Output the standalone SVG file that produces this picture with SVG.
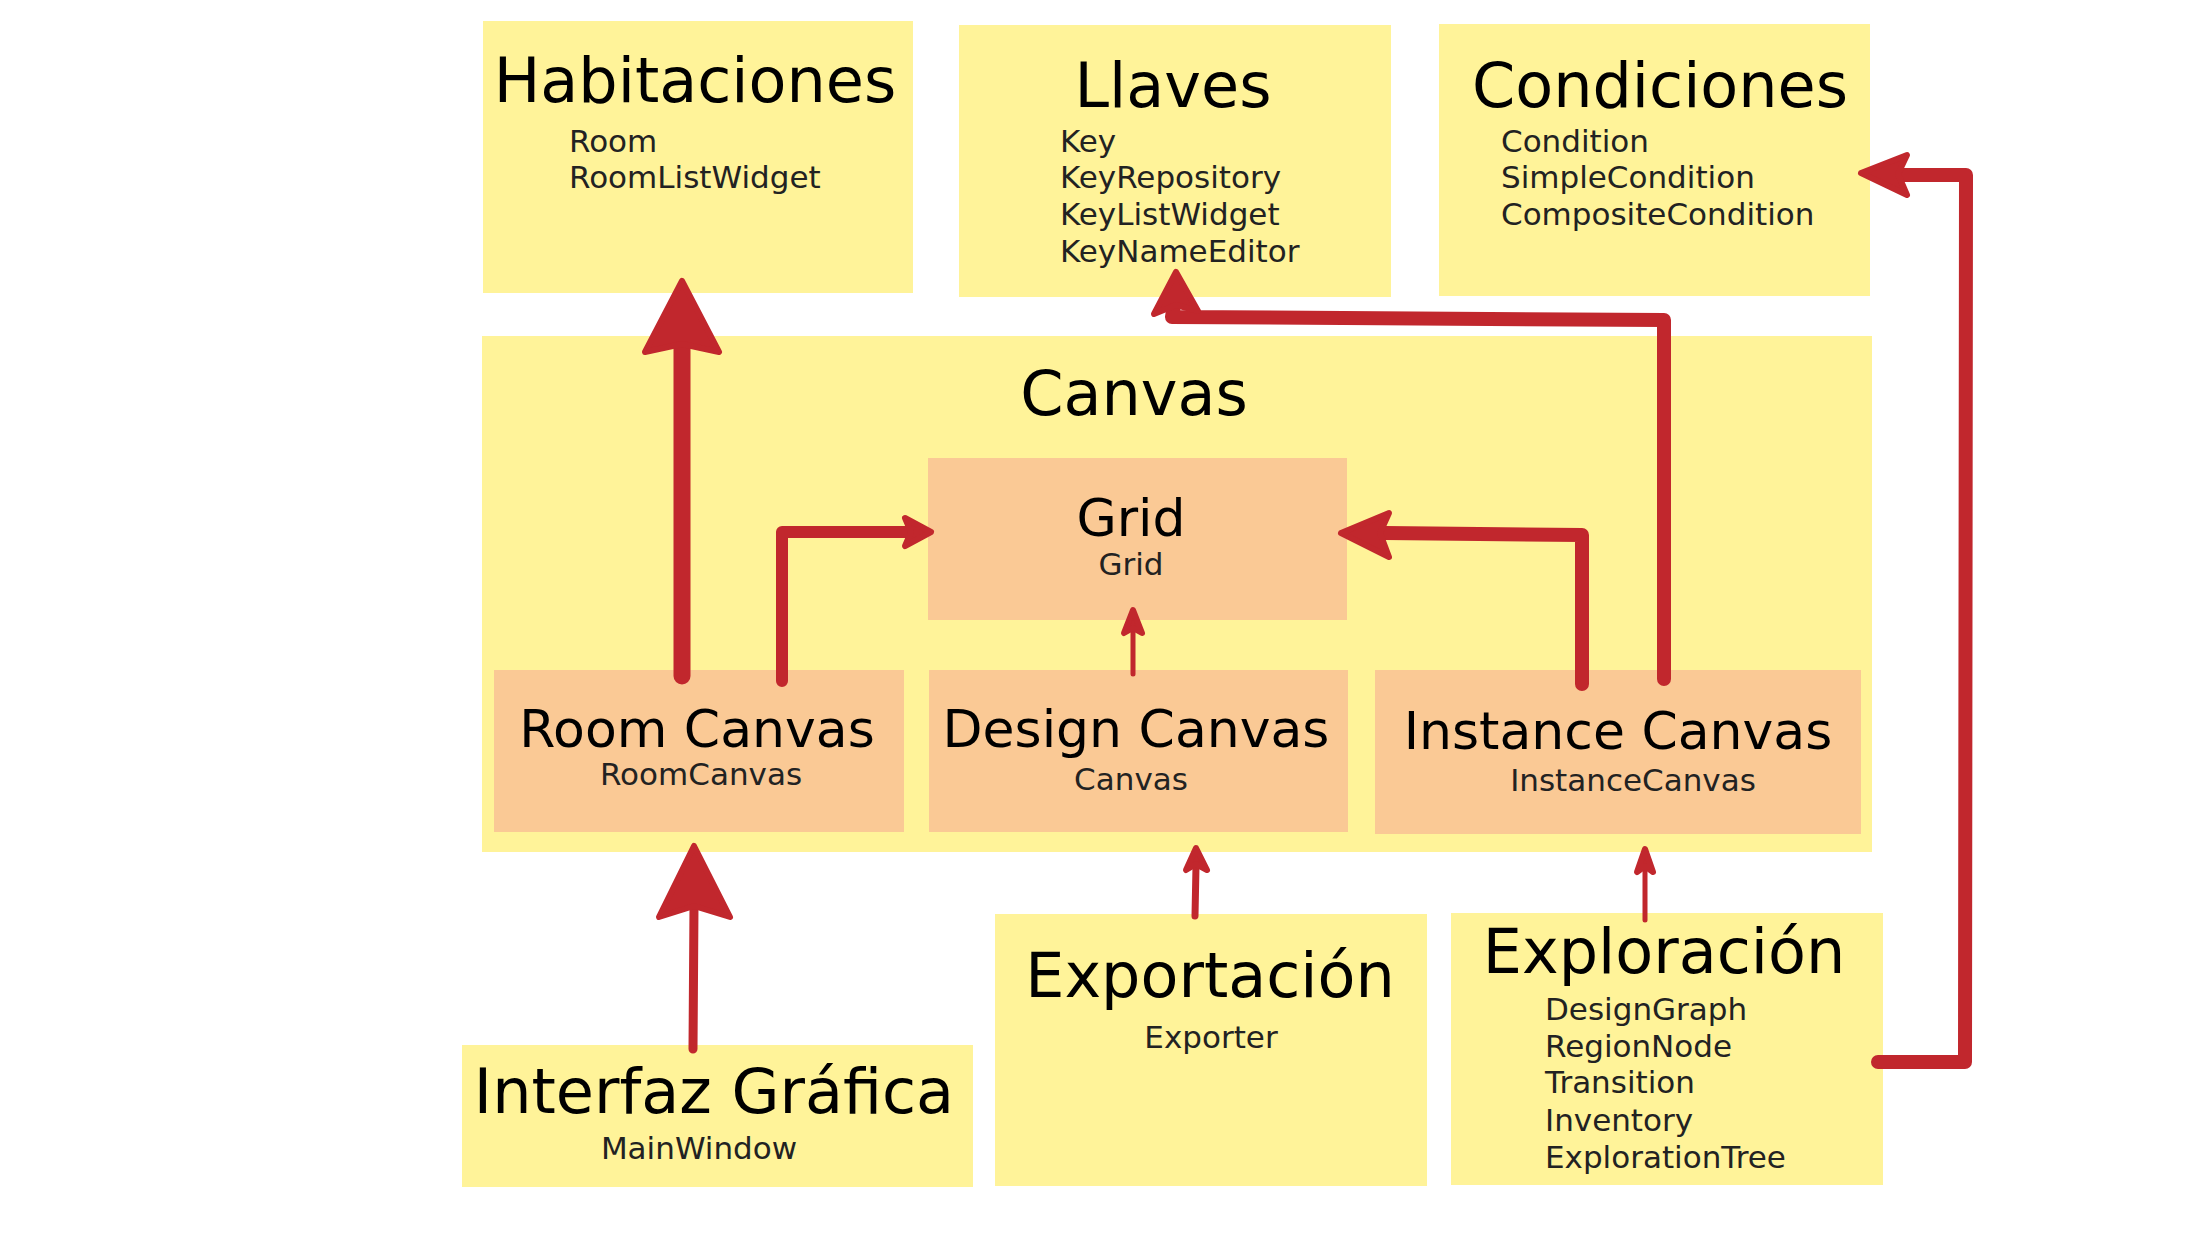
<svg xmlns="http://www.w3.org/2000/svg" width="2200" height="1238" viewBox="0 0 2200 1238">
<style>
  .pkg { fill: #fff399; }
  .cls { fill: #fac995; }
  .title { font-family: "DejaVu Sans", sans-serif; font-size: 62px; fill: #000; text-anchor: middle; }
  .mid { font-family: "DejaVu Sans", sans-serif; font-size: 52px; fill: #000; text-anchor: middle; }
  .sub { font-family: "DejaVu Sans", sans-serif; font-size: 31px; fill: #222; }
  .c { text-anchor: middle; }
  .line { fill: none; stroke: #c1272d; stroke-linecap: round; stroke-linejoin: round; }
  .head { fill: #c1272d; stroke: #c1272d; stroke-width: 6; stroke-linejoin: round; }
</style>
<rect width="2200" height="1238" fill="#ffffff"/>

<g id="habitaciones">
  <rect class="pkg" x="483" y="21" width="430" height="272"/>
  <text class="title" x="695" y="102">Habitaciones</text>
  <text class="sub" x="569" y="152">Room</text>
  <text class="sub" x="569" y="188">RoomListWidget</text>
</g>
<g id="llaves">
  <rect class="pkg" x="959" y="25" width="432" height="272"/>
  <text class="title" x="1173" y="107">Llaves</text>
  <text class="sub" x="1060" y="152">Key</text>
  <text class="sub" x="1060" y="188">KeyRepository</text>
  <text class="sub" x="1060" y="225">KeyListWidget</text>
  <text class="sub" x="1060" y="262">KeyNameEditor</text>
</g>
<g id="condiciones">
  <rect class="pkg" x="1439" y="24" width="431" height="272"/>
  <text class="title" x="1660" y="107">Condiciones</text>
  <text class="sub" x="1501" y="152">Condition</text>
  <text class="sub" x="1501" y="188">SimpleCondition</text>
  <text class="sub" x="1501" y="225">CompositeCondition</text>
</g>
<g id="canvas">
  <rect class="pkg" x="482" y="336" width="1390" height="516"/>
  <text class="title" x="1134" y="415">Canvas</text>
</g>
<g id="grid">
  <rect class="cls" x="928" y="458" width="419" height="162"/>
  <text class="mid" x="1131" y="536">Grid</text>
  <text class="sub c" x="1131" y="575">Grid</text>
</g>
<g id="room-canvas">
  <rect class="cls" x="494" y="670" width="410" height="162"/>
  <text class="mid" x="697" y="747">Room Canvas</text>
  <text class="sub c" x="701" y="785">RoomCanvas</text>
</g>
<g id="design-canvas">
  <rect class="cls" x="929" y="670" width="419" height="162"/>
  <text class="mid" x="1136" y="747">Design Canvas</text>
  <text class="sub c" x="1131" y="790">Canvas</text>
</g>
<g id="instance-canvas">
  <rect class="cls" x="1375" y="670" width="486" height="164"/>
  <text class="mid" x="1618" y="749">Instance Canvas</text>
  <text class="sub c" x="1633" y="791">InstanceCanvas</text>
</g>
<g id="interfaz">
  <rect class="pkg" x="462" y="1045" width="511" height="142"/>
  <text class="title" x="714" y="1113">Interfaz Gráfica</text>
  <text class="sub c" x="699" y="1159">MainWindow</text>
</g>
<g id="exportacion">
  <rect class="pkg" x="995" y="914" width="432" height="272"/>
  <text class="title" x="1210" y="997">Exportación</text>
  <text class="sub c" x="1211" y="1048">Exporter</text>
</g>
<g id="exploracion">
  <rect class="pkg" x="1451" y="913" width="432" height="272"/>
  <text class="title" x="1664" y="973">Exploración</text>
  <text class="sub" x="1545" y="1020">DesignGraph</text>
  <text class="sub" x="1545" y="1057">RegionNode</text>
  <text class="sub" x="1545" y="1093">Transition</text>
  <text class="sub" x="1545" y="1131">Inventory</text>
  <text class="sub" x="1545" y="1168">ExplorationTree</text>
</g>

<g id="connectors">
  <!-- Room Canvas -> Habitaciones -->
  <path class="line" stroke-width="17" d="M682,676 L682,345"/>
  <path class="head" d="M682,281 L719,352 L682,344 L645,352 Z"/>
  <!-- Room Canvas -> Grid -->
  <path class="line" stroke-width="12" d="M782,681 L782,532 L912,532"/>
  <path class="head" d="M931,532 L905,546 L911,532 L905,518 Z"/>
  <!-- Instance Canvas -> Grid -->
  <path class="line" stroke-width="14" d="M1582,684 L1582,535 L1385,533"/>
  <path class="head" d="M1341,533 L1389,513 L1380,533 L1389,557 Z"/>
  <!-- Instance Canvas -> Llaves -->
  <path class="line" stroke-width="14" d="M1664,679 L1664,320 L1172,317 L1174,305"/>
  <path class="head" d="M1176,272 L1198,311 L1176,305 L1154,314 Z"/>
  <!-- Design Canvas -> Grid -->
  <path class="line" stroke-width="5" d="M1133,674 L1133,630"/>
  <path class="head" d="M1133,610 L1142,633 L1133,628 L1124,633 Z"/>
  <!-- Interfaz -> Room Canvas -->
  <path class="line" stroke-width="9" d="M693,1049 L694,905"/>
  <path class="head" d="M694,846 L730,917 L694,906 L659,917 Z"/>
  <!-- Exportacion -> Design Canvas -->
  <path class="line" stroke-width="7" d="M1195,916 L1196,866"/>
  <path class="head" d="M1196,848 L1207,870 L1196,864 L1186,870 Z"/>
  <!-- Exploracion -> Instance Canvas -->
  <path class="line" stroke-width="5" d="M1645,920 L1645,868"/>
  <path class="head" d="M1645,849 L1653,872 L1645,866 L1637,872 Z"/>
  <!-- Exploracion -> Condiciones -->
  <path class="line" stroke-width="14" d="M1878,1062 L1965,1062 L1966,175 L1900,175"/>
  <path class="head" d="M1861,173 L1907,155 L1898,174 L1907,195 Z"/>
</g>
</svg>
